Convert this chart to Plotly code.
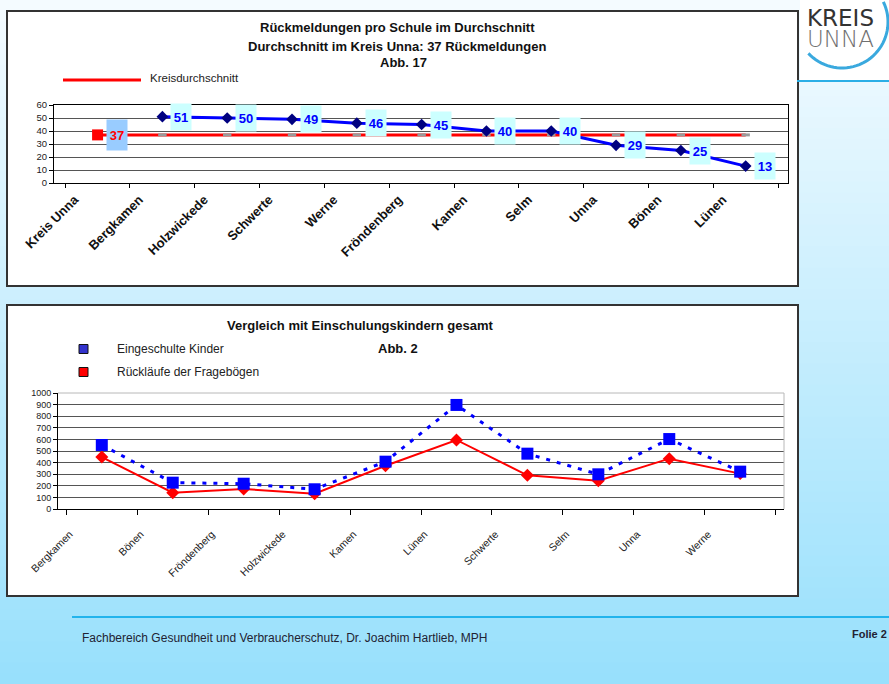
import math
import plotly.graph_objects as go

# ---- data -------------------------------------------------------------
top_categories = ["Kreis Unna", "Bergkamen", "Holzwickede", "Schwerte", "Werne",
                  "Fröndenberg", "Kamen", "Selm", "Unna", "Bönen", "Lünen"]
kreis_avg = 37
school_values = [None, 51, 50, 49, 46, 45, 40, 40, 29, 25, 13]

bottom_categories = ["Bergkamen", "Bönen", "Fröndenberg", "Holzwickede", "Kamen",
                     "Lünen", "Schwerte", "Selm", "Unna", "Werne"]
eingeschult = [552, 227, 218, 170, 408, 897, 477, 299, 603, 322]
ruecklaeufe = [448, 141, 172, 132, 373, 595, 290, 244, 434, 305]

# ---- page geometry helpers (pixel -> paper) ----------------------------
W, H = 889, 684


def px(x):
    return x / W


def py(y):
    return 1 - y / H


FONT = "Arial, Liberation Sans, sans-serif"

fig = go.Figure()

# ---- upper chart: replies per school ------------------------------------
fig.add_trace(go.Scatter(
    x=top_categories, y=[kreis_avg] * len(top_categories),
    mode="lines+markers", xaxis="x", yaxis="y",
    line=dict(color="#ff0000", width=3),
    marker=dict(symbol="line-ew", size=6, line=dict(color="#9a9a9a", width=3)),
    showlegend=False, hoverinfo="skip"))
fig.add_trace(go.Scatter(
    x=[top_categories[0]], y=[kreis_avg], mode="markers", xaxis="x", yaxis="y",
    marker=dict(symbol="square", size=11, color="#ff0000"),
    showlegend=False))
fig.add_trace(go.Scatter(
    x=top_categories, y=school_values, mode="lines+markers", xaxis="x", yaxis="y",
    line=dict(color="#0000ff", width=3),
    marker=dict(symbol="diamond", size=9, color="#000080"),
    showlegend=False))

# ---- lower chart: comparison with enrolled children ---------------------
fig.add_trace(go.Scatter(
    x=bottom_categories, y=ruecklaeufe, mode="lines+markers", xaxis="x2", yaxis="y2",
    line=dict(color="#ff0000", width=2),
    marker=dict(symbol="diamond", size=10, color="#ff0000"),
    showlegend=False))
fig.add_trace(go.Scatter(
    x=bottom_categories, y=eingeschult, mode="lines+markers", xaxis="x2", yaxis="y2",
    line=dict(color="#0000ff", width=3, dash="4px,7px"),
    marker=dict(symbol="square", size=12, color="#0000ff"),
    showlegend=False))

# ---- background, panels, logo -----------------------------------------
shapes = []
top_rgb = (244, 251, 255)
bot_rgb = (152, 224, 252)
bands = 64
for i in range(bands):
    t = i / (bands - 1)
    c = tuple(round(a + (b - a) * t) for a, b in zip(top_rgb, bot_rgb))
    y0 = H * i / bands
    y1 = min(H, H * (i + 1) / bands + 1)
    shapes.append(dict(type="rect", xref="paper", yref="paper", layer="below",
                       x0=0, x1=1, y0=py(y1), y1=py(y0),
                       fillcolor="rgb(%d,%d,%d)" % c, line=dict(width=0)))

# white chart panels
for (x0, y0, x1, y1) in [(7, 11, 798, 286), (7, 305, 798, 596)]:
    shapes.append(dict(type="rect", xref="paper", yref="paper", layer="below",
                       x0=px(x0), x1=px(x1), y0=py(y1), y1=py(y0),
                       fillcolor="white", line=dict(color="#333333", width=2)))

# logo area
shapes.append(dict(type="rect", xref="paper", yref="paper", layer="below",
                   x0=px(800), x1=1, y0=py(80), y1=1,
                   fillcolor="white", line=dict(width=0)))
shapes.append(dict(type="line", xref="paper", yref="paper", layer="below",
                   x0=px(797), x1=1, y0=py(81), y1=py(81),
                   line=dict(color="#2aaee6", width=2)))
cx, cy, r = 842, 22, 46
pts = []
for k in range(41):
    a = math.radians(137 - (137 + 26) * k / 40)
    pts.append((px(cx + r * math.cos(a)), py(cy + r * math.sin(a))))
path = "M " + " L ".join("%.5f,%.5f" % p for p in pts)
shapes.append(dict(type="path", xref="paper", yref="paper", path=path,
                   line=dict(color="#3aa9de", width=3)))

# footer rule
shapes.append(dict(type="line", xref="paper", yref="paper", layer="below",
                   x0=px(72), x1=1, y0=py(617), y1=py(617),
                   line=dict(color="#22b4ec", width=2)))

# legend sample lines / squares
shapes.append(dict(type="line", xref="paper", yref="paper",
                   x0=px(63), x1=px(141), y0=py(80), y1=py(80),
                   line=dict(color="#ff0000", width=3)))
for yc, col in [(349, "#3333cc"), (372, "#ff0000")]:
    shapes.append(dict(type="rect", xref="paper", yref="paper",
                       x0=px(79), x1=px(88), y0=py(yc + 4.5), y1=py(yc - 4.5),
                       fillcolor=col, line=dict(color="#111111", width=1)))

# lower plot area frame (top/right in grey)
shapes.append(dict(type="path", xref="x2 domain", yref="y2 domain",
                   path="M 0,1 L 1,1 L 1,0",
                   line=dict(color="#b8b8b8", width=1)))

# ---- annotations --------------------------------------------------------
ann = []


def text(x, y, s, size, bold=False, color="#111111", xanchor="center",
         family=FONT, weight=None):
    ann.append(dict(x=px(x), y=py(y), xref="paper", yref="paper", text=s,
                    showarrow=False, xanchor=xanchor, yanchor="middle", borderpad=0,
                    font=dict(family=family, size=size, color=color,
                              weight=weight if weight else ("bold" if bold else "normal"))))


text(397, 27, "Rückmeldungen pro Schule im Durchschnitt", 13, True)
text(397, 46, "Durchschnitt im Kreis Unna: %d Rückmeldungen" % kreis_avg, 13, True)
text(403, 63, "Abb. 17", 13, True)
text(149, 78, "Kreisdurchschnitt", 11.5, xanchor="left", color="#222222")

text(360, 325, "Vergleich mit Einschulungskindern gesamt", 13, True)
text(398, 348, "Abb. 2", 13, True)
text(116, 349, "Eingeschulte Kinder", 12, xanchor="left", color="#222222")
text(116, 372, "Rückläufe der Fragebögen", 12, xanchor="left", color="#222222")

text(81, 638, "Fachbereich Gesundheit und Verbraucherschutz, Dr. Joachim Hartlieb, MPH",
     12, xanchor="left", color="#222233")
text(888, 634, "Folie 2", 11, True, xanchor="right", color="#222233")

# two-line logo wordmark; tight line pitch from the small base font size
ann.append(dict(x=px(806), y=py(28), xref="paper", yref="paper", showarrow=False,
                xanchor="left", yanchor="middle", align="left", borderpad=0,
                text="<span style='font-size:23px;fill:#333333'>KREIS</span><br>"
                     "<span style='font-size:23px;fill:#707070;font-weight:200'>UNNA</span>",
                font=dict(family="DejaVu Sans", size=16, color="#333333")))

# value labels on the upper chart
ann.append(dict(x=top_categories[0], y=kreis_avg, xref="x", yref="y",
                text=str(kreis_avg), showarrow=False, xanchor="left", yanchor="middle",
                xshift=8, width=20, height=30, bgcolor="#99ccff", borderpad=0,
                font=dict(family=FONT, size=13, color="#ff0000", weight="bold")))
for cat, v in zip(top_categories, school_values):
    if v is None:
        continue
    ann.append(dict(x=cat, y=v, xref="x", yref="y", text=str(v), showarrow=False,
                    xanchor="left", yanchor="middle", xshift=8, width=20, height=26,
                    bgcolor="#ccffff", borderpad=0,
                    font=dict(family=FONT, size=13, color="#0000ff", weight="bold")))

# ---- layout -------------------------------------------------------------
fig.update_layout(
    width=W, height=H, margin=dict(l=0, r=0, t=0, b=0, autoexpand=False),
    paper_bgcolor="rgb(244,251,255)", plot_bgcolor="rgba(0,0,0,0)",
    showlegend=False, shapes=shapes, annotations=ann,
    font=dict(family=FONT, color="#111111"),
    xaxis=dict(domain=[px(54), px(788)], anchor="y", type="category", automargin=False,
               tickson="boundaries", ticks="outside", ticklen=4, tickcolor="#000",
               showline=True, linecolor="#000", linewidth=1, mirror=True,
               showgrid=False, tickangle=-45, ticklabelshift=-23,
               ticklabelstandoff=3,
               tickfont=dict(size=13, weight="bold", color="#111"),
               fixedrange=True),
    yaxis=dict(domain=[py(183), py(105)], anchor="x", range=[0, 60], dtick=10,
               automargin=False,
               showgrid=True, gridcolor="#555555", gridwidth=1, zeroline=False,
               ticks="outside", ticklen=4, tickcolor="#000",
               showline=True, linecolor="#000", linewidth=1, mirror=True,
               tickfont=dict(size=9.5, color="#222"), fixedrange=True),
    xaxis2=dict(domain=[px(58), px(784)], anchor="y2", type="category", automargin=False,
                tickson="boundaries", ticks="outside", ticklen=5, tickcolor="#000",
                showline=True, linecolor="#000", linewidth=1,
                showgrid=False, tickangle=-45, ticklabelshift=-32,
                ticklabelstandoff=14,
                tickfont=dict(size=10.5, color="#222"), fixedrange=True),
    yaxis2=dict(domain=[py(509), py(393)], anchor="x2", range=[0, 1000], dtick=100,
                automargin=False,
                showgrid=True, gridcolor="#555555", gridwidth=1, zeroline=False,
                ticks="outside", ticklen=4, tickcolor="#000",
                showline=True, linecolor="#000", linewidth=1,
                tickfont=dict(size=9, color="#222"), fixedrange=True),
)

fig.write_html("out.html")
